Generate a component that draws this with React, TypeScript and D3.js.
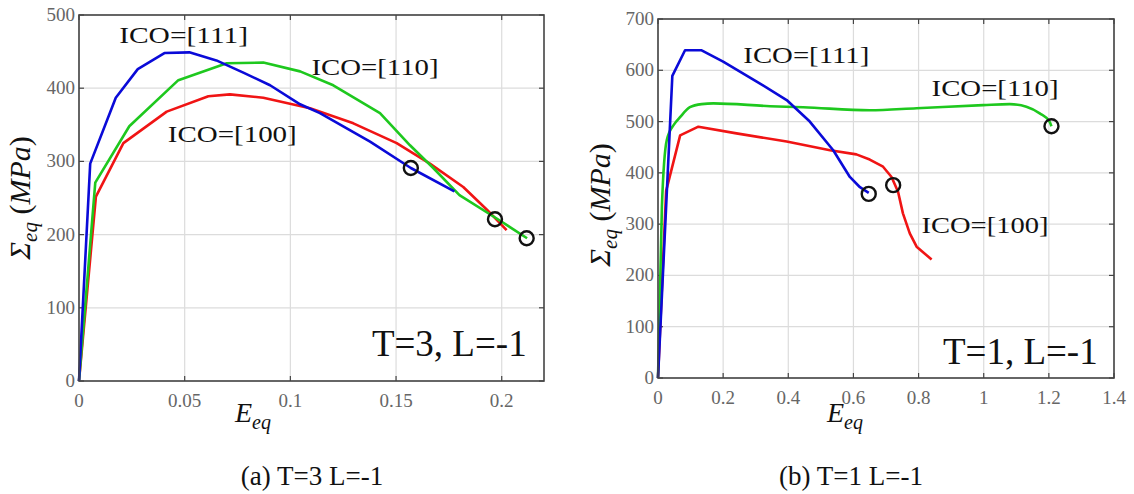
import React from 'react';
import * as d3 from 'd3';

// T=3, L=-1 curves [E_eq, Sigma_eq]
const a111 = [[0, 0], [0.0053, 297], [0.0174, 387], [0.0278, 426], [0.0404, 448], [0.0522, 449], [0.065, 438], [0.078, 421], [0.0904, 404], [0.1046, 378], [0.114, 366], [0.1377, 327], [0.157, 291], [0.1776, 259]];
const a110 = [[0, 0], [0.0077, 271], [0.0238, 348], [0.047, 411], [0.0699, 434], [0.0872, 435], [0.1046, 423], [0.1203, 404], [0.1424, 366], [0.1566, 322], [0.1676, 291], [0.18, 254], [0.1976, 222], [0.212, 195]];
const a100 = [[0, 0], [0.008, 252], [0.021, 325], [0.0415, 368], [0.0612, 389], [0.0714, 391.6], [0.0872, 387], [0.1093, 372.5], [0.1298, 352], [0.1503, 325], [0.166, 297], [0.1818, 265], [0.193, 234], [0.2023, 206]];
const aEnds = [[0.157, 291], [0.1968, 221], [0.2118, 195]];

// T=1, L=-1 curves
const b111 = [[0, 0], [0.044, 589], [0.083, 639], [0.134, 639], [0.2, 617], [0.303, 578], [0.395, 542], [0.466, 500], [0.538, 444], [0.589, 392], [0.62, 372], [0.647, 361]];
const b110 = [[0, 0], [0.012, 334], [0.027, 464], [0.05, 495], [0.067, 508], [0.098, 528], [0.134, 534], [0.17, 535.5], [0.344, 530], [0.446, 528], [0.65, 522], [0.794, 526], [0.998, 532], [1.08, 534], [1.131, 529], [1.172, 516], [1.202, 500], [1.208, 491]];
const b100 = [[0, 0], [0.025, 365], [0.068, 473], [0.124, 490], [0.241, 477], [0.395, 461], [0.528, 444], [0.609, 436], [0.65, 426], [0.691, 412], [0.717, 392], [0.737, 363], [0.752, 321], [0.773, 282], [0.794, 256], [0.84, 231]];
const bEnds = [[0.647, 359], [0.722, 376], [1.208, 491]];

const aXTicks = [0, 0.05, 0.1, 0.15, 0.2];
const aXLabels = ['0', '0.05', '0.1', '0.15', '0.2'];
const aYTicks = [0, 100, 200, 300, 400, 500];
const bXTicks = [0, 0.2, 0.4, 0.6, 0.8, 1, 1.2, 1.4];
const bXLabels = ['0', '0.2', '0.4', '0.6', '0.8', '1', '1.2', '1.4'];
const bYTicks = [0, 100, 200, 300, 400, 500, 600, 700];

const BLUE = '#0a0ad8';
const GREEN = '#1ec81e';
const RED = '#f01414';
const SERIF = 'Liberation Serif, serif';

function Panel(props) {
  const { left, right, top, bottom, xMax, yMax, xTicks, xLabels, yTicks, lines, ends, labels, note, caption, capX, xLabX, xLabY, yLabX, yLabY } = props;
  const x = d3.scaleLinear().domain([0, xMax]).range([left, right]);
  const y = d3.scaleLinear().domain([0, yMax]).range([bottom, top]);
  const mkLine = smooth => d3.line().x(d => x(d[0])).y(d => y(d[1])).curve(smooth ? d3.curveMonotoneX : d3.curveLinear);
  const axisCol = '#444';
  return (
    <g fontFamily={SERIF}>
      {/* grid */}
      {xTicks.map((t, i) => (
        <line key={'gx' + i} x1={x(t)} x2={x(t)} y1={top} y2={bottom} stroke="#dcdcdc" strokeWidth={1.2} />
      ))}
      {yTicks.map((t, i) => (
        <line key={'gy' + i} x1={left} x2={right} y1={y(t)} y2={y(t)} stroke="#dcdcdc" strokeWidth={1.2} />
      ))}
      {/* inward ticks */}
      {xTicks.map((t, i) => (
        <g key={'tx' + i} stroke={axisCol} strokeWidth={1.2}>
          <line x1={x(t)} x2={x(t)} y1={bottom} y2={bottom - 5} />
          <line x1={x(t)} x2={x(t)} y1={top} y2={top + 5} />
        </g>
      ))}
      {yTicks.map((t, i) => (
        <g key={'ty' + i} stroke={axisCol} strokeWidth={1.2}>
          <line x1={left} x2={left + 5} y1={y(t)} y2={y(t)} />
          <line x1={right} x2={right - 5} y1={y(t)} y2={y(t)} />
        </g>
      ))}
      {/* curves */}
      {lines.map((l, i) => (
        <path key={'l' + i} d={mkLine(l.smooth)(l.data)} fill="none" stroke={l.color} strokeWidth={2.6} strokeLinejoin="round" />
      ))}
      {ends.map((p, i) => (
        <circle key={'c' + i} cx={x(p[0])} cy={y(p[1])} r={7} fill="none" stroke="#111" strokeWidth={2.4} />
      ))}
      <rect x={left} y={top} width={right - left} height={bottom - top} fill="none" stroke={axisCol} strokeWidth={1.6} />
      {/* tick labels */}
      {xTicks.map((t, i) => (
        <text key={'xl' + i} x={x(t)} y={bottom + 26} textAnchor="middle" fontSize={19} fill="#666">{xLabels[i]}</text>
      ))}
      {yTicks.map((t, i) => (
        <text key={'yl' + i} x={left - 4} y={y(t) + 6} textAnchor="end" fontSize={19} fill="#666">{t}</text>
      ))}
      {/* curve labels */}
      {labels.map((lb, i) => (
        <text key={'lb' + i} x={x(lb.x)} y={y(lb.y)} fontSize={24} textLength={lb.w} lengthAdjust="spacingAndGlyphs" fill="#111">{lb.text}</text>
      ))}
      <text x={x(note.x)} y={y(note.y)} textAnchor="end" fontSize={37} fill="#111">{note.text}</text>
      {/* axis labels */}
      <text x={xLabX} y={xLabY} fontStyle="italic" fontSize={28} fill="#111">
        E<tspan fontSize={20} dy={7}>eq</tspan>
      </text>
      <text transform={`translate(${yLabX},${yLabY}) rotate(-90)`} textAnchor="middle" fontSize={30} fill="#111">
        <tspan fontStyle="italic">Σ</tspan>
        <tspan fontStyle="italic" fontSize={21} dy={7}>eq</tspan>
        <tspan dy={-7}> (</tspan>
        <tspan fontStyle="italic">MPa</tspan>
        <tspan>)</tspan>
      </text>
      <text x={capX} y={485} textAnchor="middle" fontSize={27} fill="#111">{caption}</text>
    </g>
  );
}

export default function App() {
  return (
    <svg width={1134} height={494} style={{ display: 'block', position: 'absolute', left: 0, top: 0, background: '#fff' }}>
      <Panel
        left={79} right={544} top={15} bottom={381}
        xMax={0.22} yMax={500}
        xTicks={aXTicks} xLabels={aXLabels} yTicks={aYTicks}
        lines={[{ data: a100, color: RED }, { data: a110, color: GREEN }, { data: a111, color: BLUE }]}
        ends={aEnds}
        labels={[
          { text: 'ICO=[111]', x: 0.019, y: 462, w: 129 },
          { text: 'ICO=[100]', x: 0.042, y: 327, w: 129 },
          { text: 'ICO=[110]', x: 0.110, y: 418, w: 127 },
        ]}
        note={{ text: 'T=3, L=-1', x: 0.2118, y: 34 }}
        caption="(a) T=3 L=-1" capX={312}
        xLabX={235} xLabY={422}
        yLabX={30} yLabY={198}
      />
      <Panel
        left={658} right={1114} top={19} bottom={378}
        xMax={1.4} yMax={700}
        xTicks={bXTicks} xLabels={bXLabels} yTicks={bYTicks}
        lines={[{ data: b100, color: RED }, { data: b110, color: GREEN, smooth: true }, { data: b111, color: BLUE }]}
        ends={bEnds}
        labels={[
          { text: 'ICO=[111]', x: 0.262, y: 614, w: 126 },
          { text: 'ICO=[110]', x: 0.84, y: 550, w: 127 },
          { text: 'ICO=[100]', x: 0.809, y: 283, w: 127 },
        ]}
        note={{ text: 'T=1, L=-1', x: 1.35, y: 27 }}
        caption="(b) T=1 L=-1" capX={851}
        xLabX={827} xLabY={422}
        yLabX={610} yLabY={205}
      />
    </svg>
  );
}
